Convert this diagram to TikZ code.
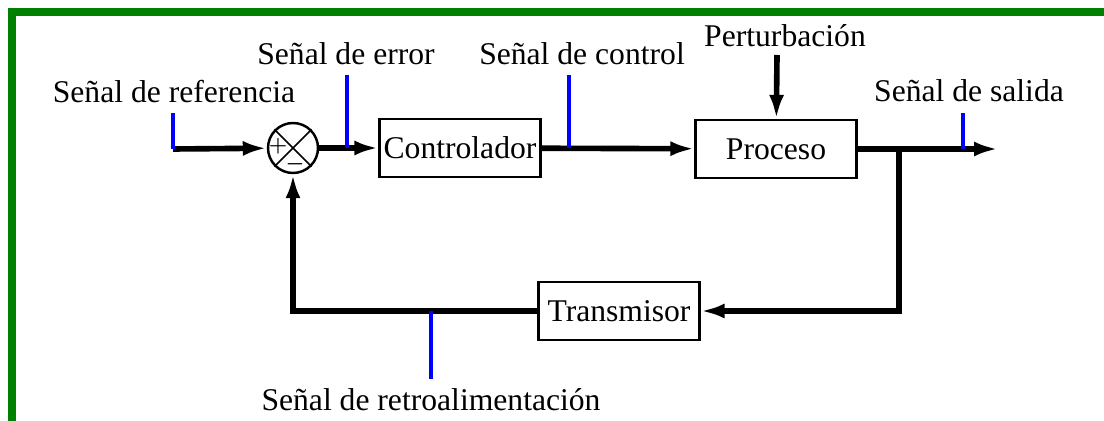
\documentclass[tikz,border=0pt]{standalone}
\usepackage{fontspec}
\setmainfont{Liberation Serif}
\usetikzlibrary{arrows.meta}
\definecolor{borde}{RGB}{0,128,0}

\begin{document}
\begin{tikzpicture}[x=0.02cm, y=-0.02cm,
  every node/.style={font=\fontsize{18}{22}\selectfont},
  bloque/.style={draw, line width=1.3pt, minimum width=3.22cm, minimum height=1.16cm, inner sep=0pt},
  flecha/.style={line width=3.2pt, -{Latex[length=0.48cm, width=0.3cm]}},
  marca/.style={blue, line width=1.8pt},
  signo/.style={font=\fontsize{12}{12}\selectfont\boldmath, inner sep=0pt},
  etiqueta/.style={anchor=base, inner sep=0pt}]
  \useasboundingbox (0,0) rectangle (1104,421);
  \draw[borde, line width=4pt] (12,421) -- (12,12) -- (1104,12);

  \node[circle, draw, line width=1.4pt, minimum size=1cm, inner sep=0pt] (sum) at (293,148) {};
  \draw[line width=0.9pt] (sum.north west) -- (sum.south east);
  \draw[line width=0.9pt] (sum.north east) -- (sum.south west);
  \node[signo] (mas) at (278,146) {$+$};
  \node[signo] (menos) at (295,164) {$-$};

  \node[bloque] (ctrl) at (460,148) {Controlador};
  \node[bloque] (proc) at (776,149) {Proceso};
  \node[bloque] (trans) at (619,311) {Transmisor};

  \coordinate (ref) at (173,149);
  \coordinate (pert) at (777,55);
  \coordinate (rama) at (899,149);
  \coordinate (sal) at (998,149);

  \draw[flecha] (ref) -- (sum);
  \draw[flecha] (sum) -- (ctrl);
  \draw[flecha] (ctrl) -- (proc);
  \draw[flecha] (pert) -- (proc);
  \draw[flecha] (proc) -- (sal);
  \draw[flecha] (rama) |- (trans);
  \draw[flecha] (trans) -| (sum);

  \draw[marca] (ref) -- ++(0,-36);
  \draw[marca] (347,148) -- ++(0,-73);
  \draw[marca] (569,148) -- ++(0,-73);
  \draw[marca] (963,149) -- ++(0,-36);
  \draw[marca] (431,311) -- ++(0,68);

  \node[etiqueta] (lref) at (174,103) {Señal de referencia};
  \node[etiqueta] (lerr) at (346,65) {Señal de error};
  \node[etiqueta] (lctrl) at (582,65) {Señal de control};
  \node[etiqueta] (lpert) at (785,47) {Perturbación};
  \node[etiqueta] (lsal) at (969,102) {Señal de salida};
  \node[etiqueta] (lretro) at (431,411) {Señal de retroalimentación};
\end{tikzpicture}
\end{document}
